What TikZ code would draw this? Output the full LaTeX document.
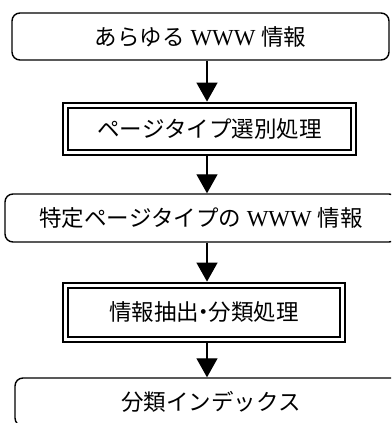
\documentclass[tikz,border=0pt]{standalone}
\usepackage{fontspec}
\setmainfont[Scale=1.02]{Liberation Serif}
\newfontfamily\jp{Noto Sans CJK JP}
\usetikzlibrary{arrows.meta}
\begin{document}
\begin{tikzpicture}[x=1pt,y=1pt,
  rbox/.style={draw, line width=1.4pt, rounded corners=8pt, inner sep=0pt,
    font=\fontsize{22.5}{26}\selectfont},
  dbox/.style={draw, double, line width=1.8pt, double distance=3.2pt, inner sep=0pt,
    font=\fontsize{22.5}{26}\selectfont},
  flow/.style={line width=1.3pt, -{Triangle[width=21pt,length=19pt]}}
]
\useasboundingbox (0,0) rectangle (391,-423);
\clip (0,0) rectangle (391,-423);
\coordinate (ax) at (207,0);
\node[rbox, minimum width=377pt, minimum height=47pt] (b1) at (200.5,-36.5)
  {{\jp あらゆる} WWW {\jp 情報}};
\node[dbox, minimum width=288pt, minimum height=47pt] (b2) at (209.5,-129)
  {\jp ページタイプ選別処理};
\node[rbox, minimum width=392pt, minimum height=48pt] (b3) at (201,-218)
  {{\jp 特定ページタイプの} WWW {\jp 情報}};
\node[dbox, minimum width=277pt, minimum height=54pt] (b4) at (204,-312.5)
  {\jp 情報抽出\makebox[0.42em]{・}分類処理};
\node[rbox, minimum width=392pt, minimum height=48pt] (b5) at (211,-402)
  {\jp 分類インデックス};
\draw[flow, shorten >=3pt] (b1.south -| ax) -- (b2.north -| ax);
\draw[flow, shorten <=3pt] (b2.south -| ax) -- (b3.north -| ax);
\draw[flow, shorten >=3pt] (b3.south -| ax) -- (b4.north -| ax);
\draw[flow, shorten <=3pt] (b4.south -| ax) -- (b5.north -| ax);
\end{tikzpicture}
\end{document}
